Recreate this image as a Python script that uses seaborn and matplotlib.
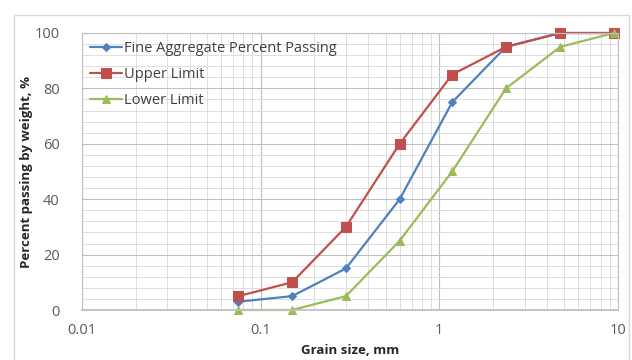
import numpy as np
import pandas as pd
import matplotlib
matplotlib.use("Agg")
import matplotlib.pyplot as plt
import seaborn as sns
from matplotlib.ticker import FixedLocator, LogLocator, NullFormatter, MultipleLocator

# sieve sizes (mm) and percent passing
sieve_mm = [0.075, 0.15, 0.3, 0.6, 1.18, 2.36, 4.75, 9.5]
fine_passing = [3, 5, 15, 40, 75, 95, 100, 100]
upper_limit = [5, 10, 30, 60, 85, 95, 100, 100]
lower_limit = [0, 0, 5, 25, 50, 80, 95, 100]

series_names = ["Fine Aggregate Percent Passing", "Upper Limit", "Lower Limit"]
series_values = [fine_passing, upper_limit, lower_limit]
colors = ["#4F81BD", "#C0504D", "#9BBB59"]
markers = ["D", "s", "^"]
msizes = [4.5, 7, 5.5]

df = pd.concat([
    pd.DataFrame({"size": sieve_mm, "passing": vals, "series": name})
    for name, vals in zip(series_names, series_values)
])

sns.set_theme(style="white")
plt.rcParams["font.family"] = ["Open Sans", "DejaVu Sans"]

fig = plt.figure(figsize=(6.32, 3.6), dpi=100)
ax = fig.add_axes([82 / 632, 50 / 360, 536 / 632, 277 / 360])

# outer chart-area border (bottom edge falls outside the image)
fig.patches.append(plt.Rectangle((14 / 632, -0.05), 1 - 14 / 632 - 0.005, 1 - 15 / 360 + 0.05,
                                 transform=fig.transFigure, fill=False,
                                 edgecolor="#D9D9D9", linewidth=1.0))

for name, col, mk, ms in zip(series_names, colors, markers, msizes):
    sns.lineplot(data=df[df["series"] == name], x="size", y="passing", ax=ax,
                 color=col, marker=mk, markersize=ms, markeredgecolor=col,
                 linewidth=1.6, label=name, clip_on=False)

ax.set_xscale("log")
ax.set_xlim(0.01, 10)
ax.set_ylim(0, 100)
ax.xaxis.set_major_locator(FixedLocator([0.01, 0.1, 1, 10]))
ax.set_xticklabels(["0.01", "0.1", "1", "10"])
ax.xaxis.set_minor_locator(LogLocator(base=10, subs=np.arange(2, 10)))
ax.xaxis.set_minor_formatter(NullFormatter())
ax.yaxis.set_major_locator(MultipleLocator(20))
ax.yaxis.set_minor_locator(MultipleLocator(4))

ax.grid(which="major", color="#BFBFBF", linewidth=0.8)
ax.grid(which="minor", color="#D9D9D9", linewidth=0.6)
ax.set_axisbelow(True)
for side in ["top", "right", "left"]:
    ax.spines[side].set_color("#BFBFBF")
    ax.spines[side].set_linewidth(0.8)
ax.spines["bottom"].set_color("#BFBFBF")

ax.tick_params(axis="both", which="both", length=0, labelsize=10.5, labelcolor="#595959")
ax.tick_params(axis="x", pad=9)
ax.tick_params(axis="y", pad=16)

ax.set_xlabel("Grain size, mm", fontsize=9.5, fontweight="bold", labelpad=5)
ax.set_ylabel("Percent passing by weight, %", fontsize=9.5, fontweight="bold", labelpad=1)

leg = ax.legend(loc="upper left", frameon=False, fontsize=10.5, handlelength=2.2,
                handletextpad=0.1, labelspacing=0.75, borderaxespad=0.35,
                borderpad=0.2)
for t in leg.get_texts():
    t.set_color("#404040")

fig.savefig("out.png", dpi=100)
